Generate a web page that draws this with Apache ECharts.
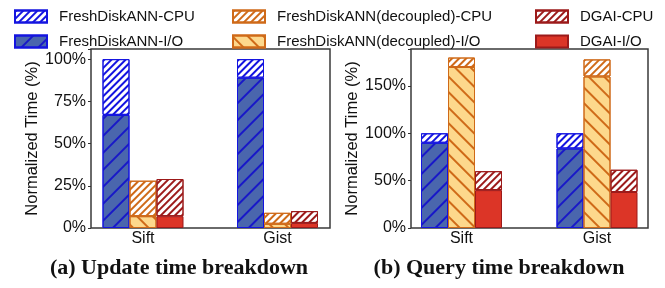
<!DOCTYPE html>
<html>
<head>
<meta charset="utf-8">
<script src="https://cdn.jsdelivr.net/npm/echarts@6/dist/echarts.min.js"></script>
<style>
  html, body { margin: 0; padding: 0; background: #fff; }
  #main { width: 665px; height: 288px; }
</style>
</head>
<body>
<div id="main"></div>
<script>
// 数据
var categories = ["Sift", "Gist"];

// (a) Update time breakdown
var updateFdIo = [67, 89];
var updateFdCpu = [33, 11];
var updateDecIo = [7, 2.5];
var updateDecCpu = [21, 6.5];
var updateDgaiIo = [7, 3];
var updateDgaiCpu = [22, 7];

// (b) Query time breakdown
var queryFdIo = [90, 84];
var queryFdCpu = [10, 16];
var queryDecIo = [170, 160];
var queryDecCpu = [10, 18];
var queryDgaiIo = [40, 38];
var queryDgaiCpu = [20, 23.5];

var leftTicks = { max: 106, interval: 25, gap: 43 };
var rightTicks = { max: 189, interval: 50, gap: 44 };

var sans = "'Liberation Sans', Arial, sans-serif";
var blue = "#1414e0";
var orange = "#cf6a18";
var darkRed = "#9c1a1a";

// 斜线纹理
function hatch(color, gap, rot) {
  return {
    symbol: "rect",
    symbolSize: 1,
    color: color,
    dashArrayX: [1, 0],
    dashArrayY: [1.1, gap],
    rotation: rot
  };
}
var SLASH = -Math.PI / 4; // "/"
var BACK = Math.PI / 4;   // "\"

var styles = {
  fdCpu: { color: "#ffffff", borderColor: blue, borderWidth: 1, decal: hatch(blue, 3, SLASH) },
  fdIo: { color: "#4a66ad", borderColor: blue, borderWidth: 1, decal: hatch("#1818c8", 10, SLASH) },
  decCpu: { color: "#ffffff", borderColor: orange, borderWidth: 1, decal: hatch(orange, 3, SLASH) },
  decIo: { color: "#fdd88c", borderColor: orange, borderWidth: 1, decal: hatch(orange, 9, BACK) },
  dgaiCpu: { color: "#ffffff", borderColor: darkRed, borderWidth: 1, decal: hatch(darkRed, 3, SLASH) },
  dgaiIo: { color: "#dc3527", borderColor: darkRed, borderWidth: 1, decal: null }
};

function bar(name, stack, data, style, idx) {
  return {
    name: name,
    type: "bar",
    stack: stack + idx,
    xAxisIndex: idx,
    yAxisIndex: idx,
    barWidth: 27,
    barGap: "0%",
    data: data,
    itemStyle: style
  };
}

// frame grid: 只画边框和y轴; bar grid: 放柱子
function frameY(t, idx) {
  return {
    type: "value",
    gridIndex: idx,
    min: 0,
    max: t.max,
    interval: t.interval,
    name: "Normalized Time (%)",
    nameLocation: "middle",
    nameGap: t.gap,
    nameTextStyle: { fontFamily: sans, fontSize: 16.5, color: "#111" },
    axisLine: { show: false },
    axisTick: { show: true, length: 3, lineStyle: { color: "#333" } },
    splitLine: { show: false },
    axisLabel: {
      margin: 5, fontFamily: sans, fontSize: 16, color: "#111",
      formatter: function (v) { return v % t.interval === 0 ? v + "%" : ""; }
    }
  };
}
function hiddenY(t, idx) {
  return { type: "value", gridIndex: idx, min: 0, max: t.max, show: false, splitLine: { show: false } };
}
function frameX(idx) {
  return { type: "category", gridIndex: idx, data: categories, show: false };
}
function barX(idx) {
  return {
    type: "category",
    gridIndex: idx,
    data: categories,
    axisLine: { show: false },
    axisTick: { show: false },
    axisLabel: { margin: 3, fontFamily: sans, fontSize: 16, color: "#111" }
  };
}

function legend(left, names) {
  return {
    left: left,
    top: 9,
    orient: "vertical",
    padding: 0,
    itemWidth: 32,
    itemHeight: 12,
    itemGap: 10,
    icon: "rect",
    selectedMode: false,
    data: names,
    textStyle: { fontFamily: sans, fontSize: 15, color: "#111", padding: [0, 0, 0, 7] }
  };
}

var myChart = echarts.init(document.getElementById("main"), null, { renderer: "canvas" });

var captionStyle = { fontFamily: "'Liberation Serif', serif", fontWeight: "bold", fontSize: 22, color: "#111" };

var option = {
  animation: false,
  legend: [
    legend(14, ["FreshDiskANN-CPU", "FreshDiskANN-I/O"]),
    legend(232, ["FreshDiskANN(decoupled)-CPU", "FreshDiskANN(decoupled)-I/O"]),
    legend(535, ["DGAI-CPU", "DGAI-I/O"])
  ],
  title: [
    { text: "(a) Update time breakdown", left: 174, top: 252, textAlign: "center", textStyle: captionStyle },
    { text: "(b) Query time breakdown", left: 494, top: 252, textAlign: "center", textStyle: captionStyle }
  ],
  grid: [
    { left: 91, top: 49, width: 239, height: 179, show: true, borderColor: "#3a3a3a", borderWidth: 1.5, backgroundColor: "transparent" },
    { left: 75.75, top: 49, width: 269, height: 179 },
    { left: 411, top: 49, width: 237, height: 179, show: true, borderColor: "#3a3a3a", borderWidth: 1.5, backgroundColor: "transparent" },
    { left: 393.75, top: 49, width: 271, height: 179 }
  ],
  xAxis: [frameX(0), barX(1), frameX(2), barX(3)],
  yAxis: [frameY(leftTicks, 0), hiddenY(leftTicks, 1), frameY(rightTicks, 2), hiddenY(rightTicks, 3)],
  series: [
    bar("FreshDiskANN-I/O", "fd", updateFdIo, styles.fdIo, 1),
    bar("FreshDiskANN-CPU", "fd", updateFdCpu, styles.fdCpu, 1),
    bar("FreshDiskANN(decoupled)-I/O", "dec", updateDecIo, styles.decIo, 1),
    bar("FreshDiskANN(decoupled)-CPU", "dec", updateDecCpu, styles.decCpu, 1),
    bar("DGAI-I/O", "dgai", updateDgaiIo, styles.dgaiIo, 1),
    bar("DGAI-CPU", "dgai", updateDgaiCpu, styles.dgaiCpu, 1),

    bar("FreshDiskANN-I/O", "fd", queryFdIo, styles.fdIo, 3),
    bar("FreshDiskANN-CPU", "fd", queryFdCpu, styles.fdCpu, 3),
    bar("FreshDiskANN(decoupled)-I/O", "dec", queryDecIo, styles.decIo, 3),
    bar("FreshDiskANN(decoupled)-CPU", "dec", queryDecCpu, styles.decCpu, 3),
    bar("DGAI-I/O", "dgai", queryDgaiIo, styles.dgaiIo, 3),
    bar("DGAI-CPU", "dgai", queryDgaiCpu, styles.dgaiCpu, 3)
  ]
};
myChart.setOption(option);
</script>
</body>
</html>
